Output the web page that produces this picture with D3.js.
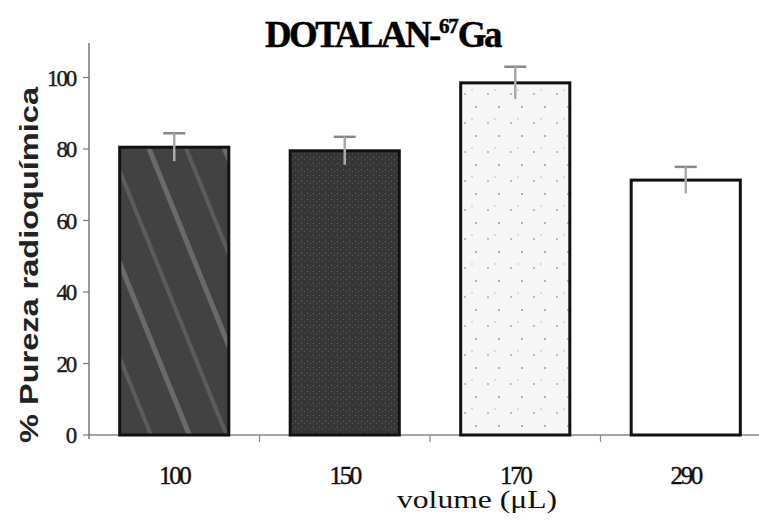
<!DOCTYPE html>
<html>
<head>
<meta charset="utf-8">
<script src="https://cdn.jsdelivr.net/npm/d3@7"></script>
<style>
  body { margin: 0; background: #fff; }
</style>
</head>
<body>
<script>
// data
var volumes = ["100", "150", "170", "290"];
var purity = [80.5, 79.5, 98.5, 71.3];
var errors = [3.9, 3.9, 4.5, 3.7];
var yTicks = [0, 20, 40, 60, 80, 100];

var width = 759, height = 521;
var margin = {top: 43, right: -12, bottom: 86, left: 89};
var serif = "Liberation Serif, Times New Roman, serif";

var svg = d3.select("body").append("svg")
    .attr("width", width)
    .attr("height", height);

// fill textures for the bars
var defs = svg.append("defs");

var p1 = defs.append("pattern")
    .attr("id", "fill0")
    .attr("patternUnits", "userSpaceOnUse")
    .attr("width", 70).attr("height", 70)
    .attr("patternTransform", "rotate(-22)");
p1.append("rect").attr("width", 70).attr("height", 70).attr("fill", "#424242");
p1.append("rect").attr("x", 10).attr("width", 5).attr("height", 70).attr("fill", "#6a6a6a");
p1.append("rect").attr("x", 45).attr("width", 4).attr("height", 70).attr("fill", "#5c5c5c");

var p2 = defs.append("pattern")
    .attr("id", "fill1")
    .attr("patternUnits", "userSpaceOnUse")
    .attr("width", 6).attr("height", 6);
p2.append("rect").attr("width", 6).attr("height", 6).attr("fill", "#363636");
p2.append("rect").attr("x", 1).attr("y", 1).attr("width", 1).attr("height", 1).attr("fill", "#666");
p2.append("rect").attr("x", 4).attr("y", 3).attr("width", 1).attr("height", 1).attr("fill", "#5a5a5a");

var p3 = defs.append("pattern")
    .attr("id", "fill2")
    .attr("patternUnits", "userSpaceOnUse")
    .attr("width", 23).attr("height", 29);
p3.append("rect").attr("width", 23).attr("height", 29).attr("fill", "#f6f6f6");
p3.append("circle").attr("cx", 5).attr("cy", 7).attr("r", 1).attr("fill", "#aaa");
p3.append("circle").attr("cx", 16).attr("cy", 20).attr("r", 1).attr("fill", "#999");
p3.append("circle").attr("cx", 12).attr("cy", 3).attr("r", 0.8).attr("fill", "#bbb");

var fills = ["url(#fill0)", "url(#fill1)", "url(#fill2)", "#fff"];

var x = d3.scaleBand()
    .domain(volumes)
    .range([margin.left, width - margin.right])
    .paddingInner(0.36)
    .paddingOuter(0.18);

var y = d3.scaleLinear()
    .domain([0, 100])
    .range([height - margin.bottom, 77.5]);

// bottom axis line with separators between bands
var baseY = y(0);
svg.append("line")
    .attr("x1", margin.left).attr("x2", width)
    .attr("y1", baseY).attr("y2", baseY)
    .attr("stroke", "#888").attr("stroke-width", 1.5);

var step = x.step();
volumes.slice(1).forEach(function(v) {
  var xs = x(v) - step * x.paddingInner() / 2;
  svg.append("line")
      .attr("x1", xs).attr("x2", xs)
      .attr("y1", baseY).attr("y2", baseY + 7)
      .attr("stroke", "#888").attr("stroke-width", 1.2);
});

// y axis
svg.append("line")
    .attr("x1", margin.left).attr("x2", margin.left)
    .attr("y1", margin.top).attr("y2", baseY + 4)
    .attr("stroke", "#777").attr("stroke-width", 1.5);

svg.selectAll(".ytick")
    .data(yTicks)
  .enter().append("line")
    .attr("x1", margin.left - 6).attr("x2", margin.left)
    .attr("y1", function(d) { return y(d); })
    .attr("y2", function(d) { return y(d); })
    .attr("stroke", "#777").attr("stroke-width", 1.2);

svg.selectAll(".ylab")
    .data(yTicks)
  .enter().append("text")
    .attr("x", margin.left - 14)
    .attr("y", function(d) { return y(d); })
    .attr("dy", "0.35em")
    .attr("text-anchor", "end")
    .attr("font-family", serif)
    .attr("font-size", 23)
    .attr("letter-spacing", -2.2)
    .attr("fill", "#1a1a1a")
    .attr("stroke", "#1a1a1a").attr("stroke-width", 0.4)
    .text(function(d) { return d; });

// error bars
svg.selectAll(".cap")
    .data(volumes)
  .enter().append("line")
    .attr("x1", function(d) { return x(d) + x.bandwidth() / 2 - 11; })
    .attr("x2", function(d) { return x(d) + x.bandwidth() / 2 + 11; })
    .attr("y1", function(d, i) { return y(purity[i] + errors[i]); })
    .attr("y2", function(d, i) { return y(purity[i] + errors[i]); })
    .attr("stroke", "#888").attr("stroke-width", 2.5);

// bars
svg.selectAll(".bar")
    .data(volumes)
  .enter().append("rect")
    .attr("x", function(d) { return x(d); })
    .attr("y", function(d, i) { return y(purity[i]); })
    .attr("width", x.bandwidth())
    .attr("height", function(d, i) { return baseY - y(purity[i]); })
    .attr("fill", function(d, i) { return fills[i]; })
    .attr("stroke", "#111")
    .attr("stroke-width", 3);

// error stems drawn over the bar top edge
svg.selectAll(".err")
    .data(volumes)
  .enter().append("line")
    .attr("x1", function(d) { return x(d) + x.bandwidth() / 2; })
    .attr("x2", function(d) { return x(d) + x.bandwidth() / 2; })
    .attr("y1", function(d, i) { return y(purity[i] - errors[i]); })
    .attr("y2", function(d, i) { return y(purity[i] + errors[i]); })
    .attr("stroke", "#aaa").attr("stroke-width", 2.5);

// x labels
svg.selectAll(".xlab")
    .data(volumes)
  .enter().append("text")
    .attr("x", function(d) { return x(d) + x.bandwidth() / 2; })
    .attr("y", 484)
    .attr("text-anchor", "middle")
    .attr("font-family", serif)
    .attr("font-size", 25)
    .attr("letter-spacing", -2.4)
    .attr("fill", "#111")
    .attr("stroke", "#111").attr("stroke-width", 0.4)
    .text(function(d) { return d; });

svg.append("text")
    .attr("x", 397)
    .attr("y", 508)
    .attr("font-family", serif)
    .attr("font-size", 25)
    .attr("textLength", 160)
    .attr("lengthAdjust", "spacingAndGlyphs")
    .attr("fill", "#111")
    .text("volume (\u03bcL)");

// y title, stretched to the span seen in the picture
svg.append("text")
    .attr("transform", "translate(38,443) rotate(-90)")
    .attr("font-family", "Liberation Sans, Arial, sans-serif")
    .attr("font-weight", "bold")
    .attr("font-size", 26)
    .attr("textLength", 356)
    .attr("lengthAdjust", "spacingAndGlyphs")
    .attr("fill", "#222")
    .text("% Pureza radioquímica");

// title, squeezed to fit between x=265 and x=500
var tg = svg.append("g");
var title = tg.append("text")
    .attr("x", 0)
    .attr("y", 0)
    .attr("font-family", serif)
    .attr("font-weight", "bold")
    .attr("font-size", 37)
    .attr("letter-spacing", -2.5)
    .attr("fill", "#000")
    .attr("stroke", "#000").attr("stroke-width", 0.5);
title.append("tspan").text("DOTALAN-");
title.append("tspan").attr("font-size", 21).attr("dy", -14).attr("letter-spacing", -1).text("67");
title.append("tspan").attr("dy", 14).text("Ga");
var tw = title.node().getComputedTextLength();
tg.attr("transform", "translate(265,47) scale(" + (235 / tw) + ",1)");
</script>
</body>
</html>
